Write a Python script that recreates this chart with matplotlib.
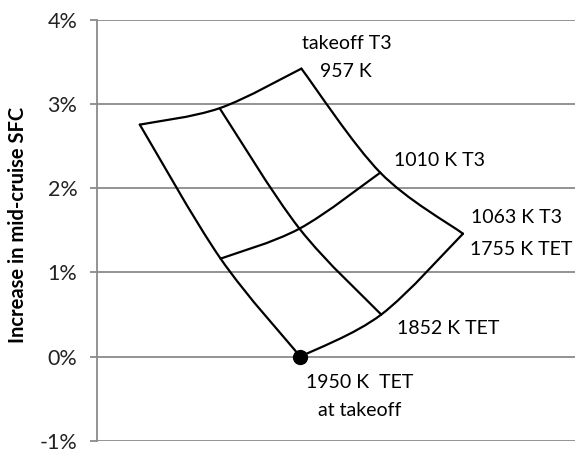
import matplotlib.pyplot as plt
from matplotlib.path import Path
from matplotlib.patches import PathPatch

plt.rcParams['font.family'] = ['Lato', 'DejaVu Sans']

# carpet nodes: rows = T3 (957, 1010, 1063 K), columns = TET (1755, 1852, 1950 K)
t3_labels = [957, 1010, 1063]
tet_labels = [1755, 1852, 1950]
carpet_x = [[4.28, 2.57, 0.90],
            [5.93, 4.24, 2.59],
            [7.66, 5.95, 4.26]]
carpet_sfc = [[3.42, 2.95, 2.755],
              [2.185, 1.52, 1.164],
              [1.46, 0.50, 0.0]]

yticks = [-1, 0, 1, 2, 3, 4]
ytick_labels = ["-1%", "0%", "1%", "2%", "3%", "4%"]


def smooth_line(ax, xs, ys):
    # Catmull-Rom style bezier through the nodes, like a smoothed Excel line
    pts = list(zip(xs, ys))
    ext = [pts[0]] + pts + [pts[-1]]
    verts = [pts[0]]
    codes = [Path.MOVETO]
    for i in range(1, len(ext) - 2):
        p0, p1, p2, p3 = ext[i - 1], ext[i], ext[i + 1], ext[i + 2]
        c1 = (p1[0] + (p2[0] - p0[0]) / 6, p1[1] + (p2[1] - p0[1]) / 6)
        c2 = (p2[0] - (p3[0] - p1[0]) / 6, p2[1] - (p3[1] - p1[1]) / 6)
        verts += [c1, c2, p2]
        codes += [Path.CURVE4] * 3
    ax.add_patch(PathPatch(Path(verts, codes), fill=False, lw=1.6, color="black",
                           capstyle="round", joinstyle="round", zorder=3))


fig = plt.figure(figsize=(5.76, 4.49), dpi=100)
ax = fig.add_axes([0.168, 0.018, 0.83, 0.938])

for i in range(3):
    smooth_line(ax, carpet_x[i], carpet_sfc[i])
for j in range(3):
    smooth_line(ax, [carpet_x[i][j] for i in range(3)], [carpet_sfc[i][j] for i in range(3)])

ax.plot(carpet_x[2][2], carpet_sfc[2][2], "o", color="black", markersize=10, zorder=4)

ax.set_xlim(0, 10)
ax.set_ylim(-1, 4)
ax.set_yticks(yticks)
ax.set_yticklabels(ytick_labels, fontsize=15.5, color="#222222")
ax.set_xticks([])
ax.grid(axis="y", color="#8a8a8a", lw=1.3)
ax.set_axisbelow(True)
for s in ["top", "right", "bottom"]:
    ax.spines[s].set_visible(False)
ax.spines["left"].set_color("#8a8a8a")
ax.spines["left"].set_linewidth(1.3)
ax.tick_params(axis="y", color="#8a8a8a", length=5, width=1.3, pad=9)
ax.set_ylabel("Increase in mid-cruise SFC", fontsize=14.5, fontweight="bold")
ax.yaxis.set_label_coords(-0.143, 0.513)

fs = 14
ax.text(5.24, 3.72, "takeoff T3", fontsize=fs, ha="center", va="center")
ax.text(5.22, 3.38, "%d K" % t3_labels[0], fontsize=fs, ha="center", va="center")
ax.text(7.16, 2.33, "%d K T3" % t3_labels[1], fontsize=fs, ha="center", va="center")
ax.text(8.77, 1.65, "%d K T3" % t3_labels[2], fontsize=fs, ha="center", va="center")
ax.text(8.87, 1.27, "%d K TET" % tet_labels[0], fontsize=fs, ha="center", va="center")
ax.text(7.35, 0.33, "%d K TET" % tet_labels[1], fontsize=fs, ha="center", va="center")
ax.text(5.49, -0.31, "%d K  TET" % tet_labels[2], fontsize=fs, ha="center", va="center")
ax.text(5.49, -0.64, "at takeoff", fontsize=fs, ha="center", va="center")

fig.savefig("out.png", dpi=100)
